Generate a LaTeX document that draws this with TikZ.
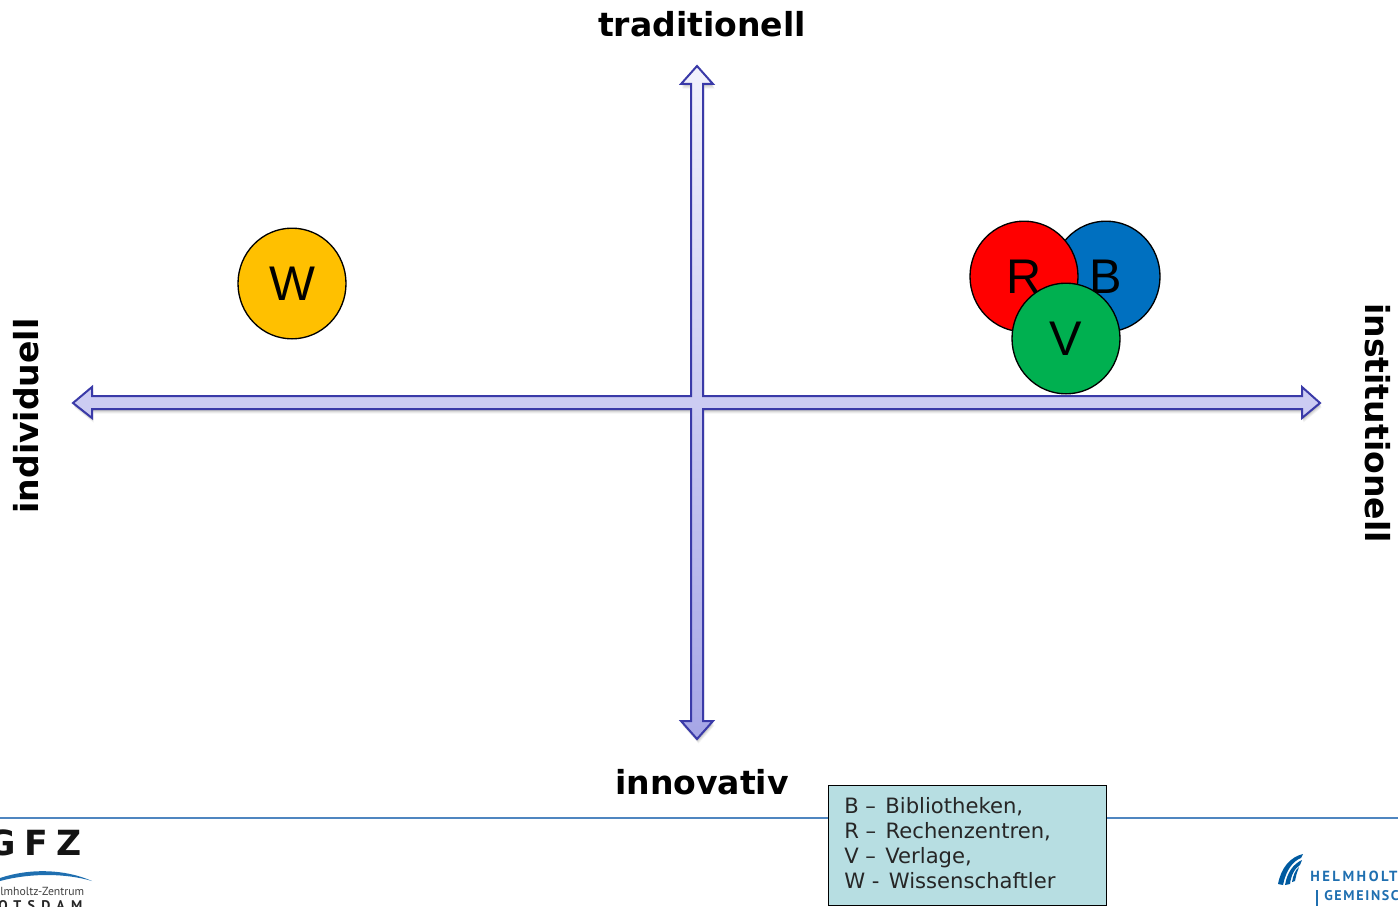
\documentclass[tikz,border=0pt]{standalone}
\usepackage{fontspec}
\setmainfont{DejaVu Sans}
\newfontfamily\arialfont{Liberation Sans}
\newfontfamily\logofont{PT Sans}
\usetikzlibrary{shadings,shapes.geometric}
\definecolor{arrowline}{HTML}{3A3AA8}
\definecolor{hfill}{HTML}{CCCCF2}
\definecolor{vtop}{HTML}{F2F2FC}
\definecolor{vbot}{HTML}{A6A6E6}
\definecolor{legendfill}{HTML}{B7DEE2}
\definecolor{rulecol}{HTML}{4F86C0}
\definecolor{logoblue}{HTML}{1F6FB0}
\definecolor{hgfblue}{HTML}{005AA0}
\definecolor{cW}{HTML}{FFC000}
\definecolor{cR}{HTML}{FF0000}
\definecolor{cB}{HTML}{0070C0}
\definecolor{cV}{HTML}{00B050}
\tikzset{
  axislabel/.style={font=\bfseries\fontsize{24.8}{30}\selectfont,inner sep=0pt,text=black},
  actor/.style={ellipse,draw=black,line width=1pt,minimum width=81pt,minimum height=83pt,inner sep=0pt,font=\arialfont\fontsize{36.5}{44}\selectfont},
  legendline/.style={anchor=base west,inner sep=0pt,font=\fontsize{15.85}{20}\selectfont,text=black!85},
  crossout/.style={line width=1.5pt,draw=arrowline,line join=miter}
}
\def\crosspath{(697,66) -- (713,84) -- (703,84) -- (703,396) -- (1302,396) -- (1302,387) -- (1320,403) -- (1302,418) -- (1302,409) -- (703,409) -- (703,721) -- (713,721) -- (697,739) -- (681,721) -- (691,721) -- (691,409) -- (92,409) -- (92,418) -- (73,403) -- (92,387) -- (92,396) -- (691,396) -- (691,84) -- (681,84) -- cycle}
\begin{document}
\begin{tikzpicture}[x=0.75pt,y=-0.75pt]
\useasboundingbox (0,0) rectangle (1398,906);
\clip (0,0) rectangle (1398,906);
% soft shadow of the cross
\foreach \d/\o in {4.5/0.05,3.5/0.06,2.5/0.08,1.5/0.10}{
  \begin{scope}[shift={(\d*0.25pt,-\d*0.75pt)}]
    \fill[black,opacity=\o] \crosspath;
  \end{scope}
}
\fill[white] \crosspath;
% arrow fills
\path[shade,top color=vtop,bottom color=vbot] (697,66) -- (713,84) -- (703,84) -- (703,721) -- (713,721) -- (697,739) -- (681,721) -- (691,721) -- (691,84) -- (681,84) -- cycle;
\fill[hfill] (1302,396) -- (1302,387) -- (1320,403) -- (1302,418) -- (1302,409) -- (92,409) -- (92,418) -- (73,403) -- (92,387) -- (92,396) -- cycle;
\draw[crossout] \crosspath;
% axis labels
\node[axislabel] (top) at (702,24) {traditionell};
\node[axislabel] (bottom) at (702,782) {innovativ};
\node[axislabel,rotate=90] (left) at (26,416) {individuell};
\node[axislabel,rotate=-90] (right) at (1378,423) {institutionell};
% actors
\node[actor,fill=cW] (W) at (292,283.5) {W};
\node[actor,fill=cB] (B) at (1106,276.5) {B};
\node[actor,fill=cR] (R) at (1024,276.5) {R};
\node[actor,fill=cV] (V) at (1066,338.5) {V};
% footer rule
\draw[rulecol,line width=0.8pt] (0,818) -- (1398,818);
% legend
\node[draw=black,line width=0.9pt,fill=legendfill,minimum width=208.5pt,minimum height=90pt,inner sep=0pt,anchor=north west] (legend) at (828,785) {};
\node[legendline] (l1) at (844,813) {B –\kern2pt{} Bibliotheken,};
\node[legendline] (l2) at (844,838) {R –\kern2pt{} Rechenzentren,};
\node[legendline] (l3) at (844,863) {V –\kern2pt{} Verlage,};
\node[legendline] (l4) at (844,888) {W -\kern2pt{} Wissenschaftler};
% GFZ logo
\node[anchor=base west,inner sep=0pt,font=\bfseries\fontsize{26}{30}\selectfont,text=black!92] (gfz) at (-12.8,855) {\addfontfeature{LetterSpace=24}GFZ};
\fill[logoblue] (0,878) .. controls (30,868) and (65,869) .. (92,881) .. controls (65,873) and (30,873) .. (0,881) -- cycle;
\node[anchor=base west,inner sep=0pt,font=\logofont\fontsize{8.8}{10}\selectfont,text=black!75] (hz) at (0,895) {lmholtz-Zentrum};
\node[anchor=base west,inner sep=0pt,font=\logofont\bfseries\fontsize{10.5}{12}\selectfont,text=black!85] (pd) at (-2,910) {\addfontfeature{LetterSpace=45}OTSDAM};
% Helmholtz logo
\fill[hgfblue] (1303,854) .. controls (1290,857) and (1281,868) .. (1278,884) -- (1283,885) .. controls (1286,870) and (1293,861) .. (1301,858) -- cycle;
\fill[hgfblue] (1302,860) .. controls (1293,864) and (1287,873) .. (1285,885) -- (1290,884) .. controls (1291,875) and (1295,868) .. (1300,865) -- cycle;
\fill[hgfblue] (1299,867) .. controls (1295,870) and (1293,876) .. (1292,882) -- (1295,881) .. controls (1296,876) and (1297,872) .. (1298,870) -- cycle;
\node[anchor=base west,inner sep=0pt,font=\logofont\bfseries\fontsize{11}{12}\selectfont,text=logoblue] (hm) at (1310,881) {\addfontfeature{LetterSpace=17}HELMHOLT};
\fill[logoblue] (1316,890) rectangle (1318,906);
\node[anchor=base west,inner sep=0pt,font=\logofont\bfseries\fontsize{10.5}{12}\selectfont,text=logoblue] (gm) at (1324,900) {\addfontfeature{LetterSpace=12}GEMEINSC};
\end{tikzpicture}
\end{document}
